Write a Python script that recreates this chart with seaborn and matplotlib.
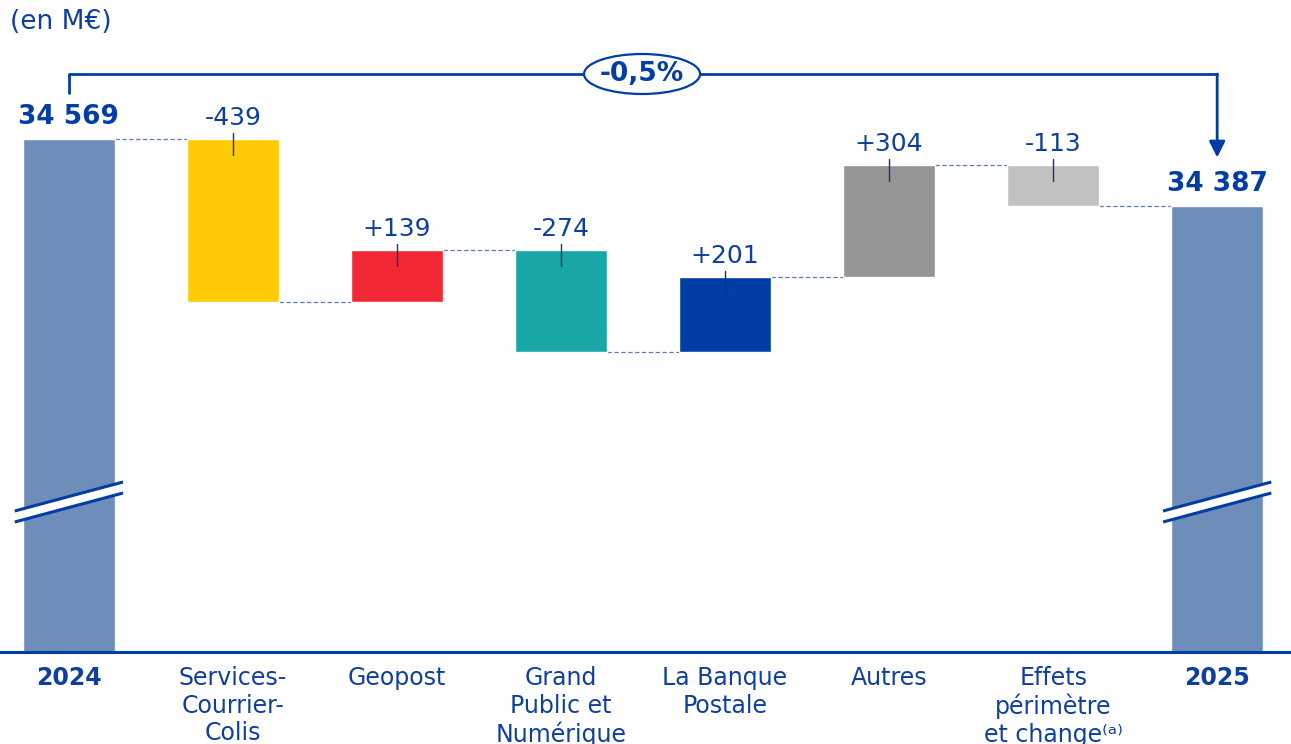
import seaborn as sns
import matplotlib.pyplot as plt
import pandas as pd
from matplotlib.patches import Ellipse, Polygon

# ---- data -------------------------------------------------------------
categories = ["2024", "Services-Courrier-Colis", "Geopost", "Grand Public et Numérique",
              "La Banque Postale", "Autres", "Effets périmètre et change", "2025"]
tick_labels = ["2024", "Services-\nCourrier-\nColis", "Geopost", "Grand\nPublic et\nNumérique",
               "La Banque\nPostale", "Autres", "Effets\npérimètre\net change⁽ᵃ⁾", "2025"]
start_total = 34569
end_total = 34387
deltas = [-439, 139, -274, 201, 304, -113]
delta_labels = ["-439", "+139", "-274", "+201", "+304", "-113"]
total_labels = ["34 569", "34 387"]
change_label = "-0,5%"
unit_label = "(en M€)"
bar_colors = ["#6F8DB9", "#FFCB05", "#F32837", "#1AA7A8", "#003DA5", "#959595", "#C1C1C1", "#6F8DB9"]

BLUE = "#003DA5"
TEXT = "#0F3F9E"

# ---- running totals ---------------------------------------------------
levels = [start_total]
for d in deltas:
    levels.append(levels[-1] + d)
tops, bottoms = [start_total], [0]
for i, d in enumerate(deltas):
    tops.append(max(levels[i], levels[i + 1]))
    bottoms.append(min(levels[i], levels[i + 1]))
tops.append(end_total)
bottoms.append(0)
df = pd.DataFrame({"cat": categories, "top": tops, "bottom": bottoms})

# ---- style ------------------------------------------------------------
sns.set_theme(style="white")
plt.rcParams['font.family'] = ['DejaVu Sans']

fig = plt.figure(figsize=(12.91, 7.44), dpi=100)
ax = fig.add_axes([0, 1 - 652 / 744, 1, 652 / 744])

bw = 0.56
sns.barplot(data=df, x="cat", y="top", hue="cat", palette=bar_colors, legend=False,
            width=bw, saturation=1, ax=ax, zorder=2)
# make the change bars float
for patch, b, t in zip(ax.patches, df["bottom"], df["top"]):
    if b > 0:
        patch.set_y(b)
        patch.set_height(t - b)

ymin, ymax = 33183, 34945
ax.set_ylim(ymin, ymax)
ax.set_xlim(-0.42, 7.45)
upx = (ymax - ymin) / 652  # data units per pixel

# connectors
for i in range(len(categories) - 1):
    ax.plot([i + bw / 2, i + 1 - bw / 2], [levels[min(i, len(levels) - 1)]] * 2,
            color="#5A7BC0", lw=0.9, ls=(0, (3.5, 2)), zorder=1)

# delta labels + small tick marks
for i, lab in enumerate(delta_labels, start=1):
    t = tops[i]
    ax.plot([i, i], [t + 6 * upx, t - 16 * upx], color="#1F2F6F", lw=1, zorder=3)
    ax.annotate(lab, (i, t), xytext=(0, 15), textcoords="offset points",
                ha="center", va="center", fontsize=18, color=TEXT)

# total labels
for i, lab in zip([0, 7], total_labels):
    ax.annotate(lab, (i, tops[i]), xytext=(0, 16), textcoords="offset points",
                ha="center", va="center", fontsize=19, fontweight="bold", color=BLUE)

# axis break marks
for i in [0, 7]:
    yc = ymin + 150 * upx
    dx, dy, gap = 0.33, 14.5 * upx, 11 * upx
    band = Polygon([(i - dx, yc - dy + gap / 2), (i + dx, yc + dy + gap / 2),
                    (i + dx, yc + dy - gap / 2), (i - dx, yc - dy - gap / 2)],
                   closed=True, facecolor="white", edgecolor="none", zorder=4, clip_on=False)
    ax.add_patch(band)
    for s in [gap / 2, -gap / 2]:
        ax.plot([i - dx, i + dx], [yc - dy + s, yc + dy + s], color=BLUE, lw=2.2,
                zorder=5, solid_capstyle="butt")

# bracket with arrow
by = ymax - 74 * upx
ax.plot([0, 0, 7], [start_total + 46 * upx, by, by], color=BLUE, lw=2, zorder=3, clip_on=False)
ax.annotate("", xy=(7, end_total + 49 * upx), xytext=(7, by),
            arrowprops=dict(arrowstyle="-|>", color=BLUE, lw=2, mutation_scale=24,
                            shrinkA=0, shrinkB=0))
ax.add_patch(Ellipse((3.494, by), 116 / 164, 40 * upx, facecolor="white",
                     edgecolor=BLUE, lw=1.6, zorder=6))
ax.text(3.494, by, change_label, ha="center", va="center", fontsize=19,
        fontweight="bold", color=BLUE, zorder=7)

# unit label
fig.text(10 / 1291, 1 - 22 / 744, unit_label, ha="left", va="center", fontsize=19, color=TEXT)

# axes cosmetics
ax.set_xlabel("")
ax.set_ylabel("")
ax.set_yticks([])
ax.set_xticks(range(len(categories)))
ax.set_xticklabels(tick_labels, fontsize=17, color=TEXT, linespacing=1.2, va="top")
for i in [0, 7]:
    ax.get_xticklabels()[i].set_fontweight("bold")
ax.tick_params(axis="x", length=0, pad=10)
for side in ["top", "left", "right"]:
    ax.spines[side].set_visible(False)
ax.spines["bottom"].set_color(BLUE)
ax.spines["bottom"].set_linewidth(2.2)

fig.savefig("out.png", dpi=100)
